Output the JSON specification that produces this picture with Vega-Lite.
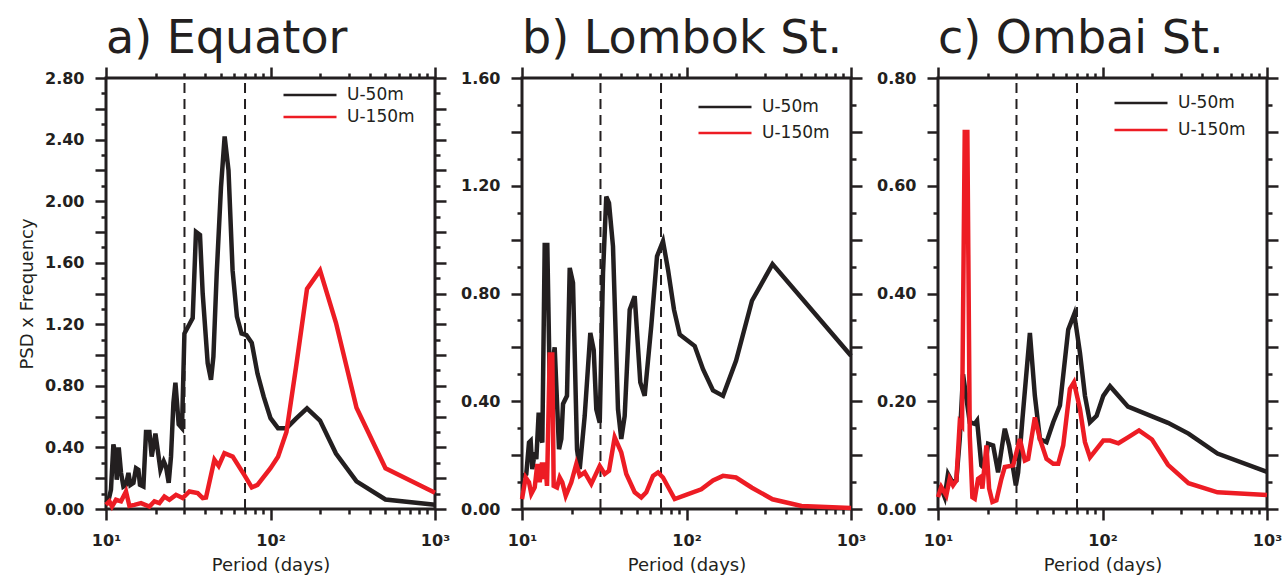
{
"$schema": "https://vega.github.io/schema/vega-lite/v6.json",
"background": "white",
"padding": {"left": 17, "top": 14, "right": 0, "bottom": 0},
"bounds": "flush",
"spacing": 87,
"datasets": {
"psd": [
{"panel":"a","series":"U-50m","period":10.0,"psd":0.04},{"panel":"a","series":"U-50m","period":10.38,"psd":0.06},{"panel":"a","series":"U-50m","period":10.72,"psd":0.125},{"panel":"a","series":"U-50m","period":11.09,"psd":0.42},{"panel":"a","series":"U-50m","period":11.40,"psd":0.36},{"panel":"a","series":"U-50m","period":11.62,"psd":0.19},{"panel":"a","series":"U-50m","period":11.95,"psd":0.40},{"panel":"a","series":"U-50m","period":12.34,"psd":0.235},{"panel":"a","series":"U-50m","period":12.76,"psd":0.146},{"panel":"a","series":"U-50m","period":13.23,"psd":0.157},{"panel":"a","series":"U-50m","period":13.69,"psd":0.235},{"panel":"a","series":"U-50m","period":14.07,"psd":0.157},{"panel":"a","series":"U-50m","period":14.68,"psd":0.17},{"panel":"a","series":"U-50m","period":15.22,"psd":0.265},{"panel":"a","series":"U-50m","period":15.74,"psd":0.255},{"panel":"a","series":"U-50m","period":16.09,"psd":0.157},{"panel":"a","series":"U-50m","period":16.88,"psd":0.146},{"panel":"a","series":"U-50m","period":17.51,"psd":0.50},{"panel":"a","series":"U-50m","period":18.36,"psd":0.50},{"panel":"a","series":"U-50m","period":18.96,"psd":0.34},{"panel":"a","series":"U-50m","period":19.97,"psd":0.49},{"panel":"a","series":"U-50m","period":20.62,"psd":0.385},{"panel":"a","series":"U-50m","period":21.42,"psd":0.255},{"panel":"a","series":"U-50m","period":22.43,"psd":0.31},{"panel":"a","series":"U-50m","period":23.16,"psd":0.275},{"panel":"a","series":"U-50m","period":24.05,"psd":0.17},{"panel":"a","series":"U-50m","period":24.84,"psd":0.34},{"panel":"a","series":"U-50m","period":25.69,"psd":0.69},{"panel":"a","series":"U-50m","period":26.42,"psd":0.82},{"panel":"a","series":"U-50m","period":27.02,"psd":0.69},{"panel":"a","series":"U-50m","period":27.66,"psd":0.55},{"panel":"a","series":"U-50m","period":28.97,"psd":0.525},{"panel":"a","series":"U-50m","period":29.97,"psd":1.14},{"panel":"a","series":"U-50m","period":32.14,"psd":1.20},{"panel":"a","series":"U-50m","period":33.65,"psd":1.24},{"panel":"a","series":"U-50m","period":35.24,"psd":1.80},{"panel":"a","series":"U-50m","period":37.27,"psd":1.78},{"panel":"a","series":"U-50m","period":38.71,"psd":1.40},{"panel":"a","series":"U-50m","period":41.51,"psd":0.947},{"panel":"a","series":"U-50m","period":43.48,"psd":0.84},{"panel":"a","series":"U-50m","period":44.97,"psd":0.99},{"panel":"a","series":"U-50m","period":47.10,"psd":1.53},{"panel":"a","series":"U-50m","period":50.0,"psd":2.09},{"panel":"a","series":"U-50m","period":52.63,"psd":2.42},{"panel":"a","series":"U-50m","period":55.56,"psd":2.20},{"panel":"a","series":"U-50m","period":58.82,"psd":1.55},{"panel":"a","series":"U-50m","period":62.5,"psd":1.25},{"panel":"a","series":"U-50m","period":66.67,"psd":1.14},{"panel":"a","series":"U-50m","period":71.43,"psd":1.13},{"panel":"a","series":"U-50m","period":76.92,"psd":1.08},{"panel":"a","series":"U-50m","period":83.33,"psd":0.88},{"panel":"a","series":"U-50m","period":90.91,"psd":0.73},{"panel":"a","series":"U-50m","period":100,"psd":0.59},{"panel":"a","series":"U-50m","period":111.1,"psd":0.525},{"panel":"a","series":"U-50m","period":125,"psd":0.525},{"panel":"a","series":"U-50m","period":142.9,"psd":0.587},{"panel":"a","series":"U-50m","period":166.7,"psd":0.654},{"panel":"a","series":"U-50m","period":200,"psd":0.575},{"panel":"a","series":"U-50m","period":250,"psd":0.36},{"panel":"a","series":"U-50m","period":333.3,"psd":0.18},{"panel":"a","series":"U-50m","period":500,"psd":0.062},{"panel":"a","series":"U-50m","period":1000,"psd":0.027},
{"panel":"a","series":"U-150m","period":10.0,"psd":0.027},{"panel":"a","series":"U-150m","period":10.49,"psd":0.05},{"panel":"a","series":"U-150m","period":10.88,"psd":0.016},{"panel":"a","series":"U-150m","period":11.50,"psd":0.06},{"panel":"a","series":"U-150m","period":12.34,"psd":0.05},{"panel":"a","series":"U-150m","period":13.23,"psd":0.114},{"panel":"a","series":"U-150m","period":13.88,"psd":0.02},{"panel":"a","series":"U-150m","period":14.88,"psd":0.027},{"panel":"a","series":"U-150m","period":16.32,"psd":0.038},{"panel":"a","series":"U-150m","period":18.36,"psd":0.016},{"panel":"a","series":"U-150m","period":19.69,"psd":0.05},{"panel":"a","series":"U-150m","period":21.12,"psd":0.038},{"panel":"a","series":"U-150m","period":22.65,"psd":0.081},{"panel":"a","series":"U-150m","period":24.29,"psd":0.06},{"panel":"a","series":"U-150m","period":26.64,"psd":0.092},{"panel":"a","series":"U-150m","period":29.26,"psd":0.071},{"panel":"a","series":"U-150m","period":32.14,"psd":0.114},{"panel":"a","series":"U-150m","period":36.09,"psd":0.103},{"panel":"a","series":"U-150m","period":38.71,"psd":0.071},{"panel":"a","series":"U-150m","period":40.54,"psd":0.075},{"panel":"a","series":"U-150m","period":45.60,"psd":0.32},{"panel":"a","series":"U-150m","period":48.42,"psd":0.28},{"panel":"a","series":"U-150m","period":52.46,"psd":0.363},{"panel":"a","series":"U-150m","period":58.91,"psd":0.34},{"panel":"a","series":"U-150m","period":69.39,"psd":0.22},{"panel":"a","series":"U-150m","period":76.92,"psd":0.14},{"panel":"a","series":"U-150m","period":83.33,"psd":0.157},{"panel":"a","series":"U-150m","period":100,"psd":0.265},{"panel":"a","series":"U-150m","period":111.1,"psd":0.34},{"panel":"a","series":"U-150m","period":125,"psd":0.50},{"panel":"a","series":"U-150m","period":142.9,"psd":0.92},{"panel":"a","series":"U-150m","period":166.7,"psd":1.43},{"panel":"a","series":"U-150m","period":200,"psd":1.55},{"panel":"a","series":"U-150m","period":250,"psd":1.21},{"panel":"a","series":"U-150m","period":333.3,"psd":0.658},{"panel":"a","series":"U-150m","period":500,"psd":0.265},{"panel":"a","series":"U-150m","period":1000,"psd":0.105},
{"panel":"b","series":"U-50m","period":10.0,"psd":0.12},{"panel":"b","series":"U-50m","period":10.62,"psd":0.13},{"panel":"b","series":"U-50m","period":11.03,"psd":0.247},{"panel":"b","series":"U-50m","period":11.29,"psd":0.253},{"panel":"b","series":"U-50m","period":11.55,"psd":0.148},{"panel":"b","series":"U-50m","period":11.95,"psd":0.21},{"panel":"b","series":"U-50m","period":12.22,"psd":0.185},{"panel":"b","series":"U-50m","period":12.63,"psd":0.358},{"panel":"b","series":"U-50m","period":12.92,"psd":0.27},{"panel":"b","series":"U-50m","period":13.29,"psd":0.247},{"panel":"b","series":"U-50m","period":13.74,"psd":0.98},{"panel":"b","series":"U-50m","period":14.25,"psd":0.98},{"panel":"b","series":"U-50m","period":14.74,"psd":0.47},{"panel":"b","series":"U-50m","period":15.80,"psd":0.60},{"panel":"b","series":"U-50m","period":16.79,"psd":0.222},{"panel":"b","series":"U-50m","period":17.34,"psd":0.26},{"panel":"b","series":"U-50m","period":17.76,"psd":0.39},{"panel":"b","series":"U-50m","period":18.77,"psd":0.42},{"panel":"b","series":"U-50m","period":19.50,"psd":0.895},{"panel":"b","series":"U-50m","period":20.42,"psd":0.84},{"panel":"b","series":"U-50m","period":21.60,"psd":0.222},{"panel":"b","series":"U-50m","period":22.43,"psd":0.148},{"panel":"b","series":"U-50m","period":24.05,"psd":0.345},{"panel":"b","series":"U-50m","period":26.02,"psd":0.654},{"panel":"b","series":"U-50m","period":27.29,"psd":0.59},{"panel":"b","series":"U-50m","period":28.30,"psd":0.37},{"panel":"b","series":"U-50m","period":29.68,"psd":0.32},{"panel":"b","series":"U-50m","period":31.08,"psd":0.877},{"panel":"b","series":"U-50m","period":32.54,"psd":1.16},{"panel":"b","series":"U-50m","period":33.80,"psd":1.136},{"panel":"b","series":"U-50m","period":35.74,"psd":0.975},{"panel":"b","series":"U-50m","period":38.33,"psd":0.37},{"panel":"b","series":"U-50m","period":40.13,"psd":0.26},{"panel":"b","series":"U-50m","period":42.09,"psd":0.345},{"panel":"b","series":"U-50m","period":45.16,"psd":0.74},{"panel":"b","series":"U-50m","period":48.42,"psd":0.79},{"panel":"b","series":"U-50m","period":52.37,"psd":0.47},{"panel":"b","series":"U-50m","period":55.69,"psd":0.42},{"panel":"b","series":"U-50m","period":61.09,"psd":0.68},{"panel":"b","series":"U-50m","period":66.18,"psd":0.938},{"panel":"b","series":"U-50m","period":71.95,"psd":0.994},{"panel":"b","series":"U-50m","period":77.19,"psd":0.889},{"panel":"b","series":"U-50m","period":83.95,"psd":0.74},{"panel":"b","series":"U-50m","period":90.93,"psd":0.648},{"panel":"b","series":"U-50m","period":112.2,"psd":0.605},{"panel":"b","series":"U-50m","period":126.0,"psd":0.519},{"panel":"b","series":"U-50m","period":144.9,"psd":0.44},{"panel":"b","series":"U-50m","period":166.7,"psd":0.42},{"panel":"b","series":"U-50m","period":200,"psd":0.55},{"panel":"b","series":"U-50m","period":250,"psd":0.773},{"panel":"b","series":"U-50m","period":333.3,"psd":0.909},{"panel":"b","series":"U-50m","period":1000,"psd":0.569},
{"panel":"b","series":"U-150m","period":10.0,"psd":0.037},{"panel":"b","series":"U-150m","period":10.53,"psd":0.117},{"panel":"b","series":"U-150m","period":11.03,"psd":0.099},{"panel":"b","series":"U-150m","period":11.39,"psd":0.056},{"panel":"b","series":"U-150m","period":11.95,"psd":0.08},{"panel":"b","series":"U-150m","period":12.39,"psd":0.167},{"panel":"b","series":"U-150m","period":12.81,"psd":0.099},{"panel":"b","series":"U-150m","period":13.23,"psd":0.173},{"panel":"b","series":"U-150m","period":13.55,"psd":0.111},{"panel":"b","series":"U-150m","period":13.86,"psd":0.173},{"panel":"b","series":"U-150m","period":14.19,"psd":0.086},{"panel":"b","series":"U-150m","period":14.74,"psd":0.574},{"panel":"b","series":"U-150m","period":15.28,"psd":0.574},{"panel":"b","series":"U-150m","period":15.58,"psd":0.086},{"panel":"b","series":"U-150m","period":16.32,"psd":0.08},{"panel":"b","series":"U-150m","period":16.95,"psd":0.117},{"panel":"b","series":"U-150m","period":17.58,"psd":0.099},{"panel":"b","series":"U-150m","period":18.44,"psd":0.049},{"panel":"b","series":"U-150m","period":19.94,"psd":0.099},{"panel":"b","series":"U-150m","period":21.38,"psd":0.167},{"panel":"b","series":"U-150m","period":22.43,"psd":0.123},{"panel":"b","series":"U-150m","period":24.05,"psd":0.136},{"panel":"b","series":"U-150m","period":26.38,"psd":0.093},{"panel":"b","series":"U-150m","period":29.68,"psd":0.16},{"panel":"b","series":"U-150m","period":31.82,"psd":0.13},{"panel":"b","series":"U-150m","period":33.80,"psd":0.142},{"panel":"b","series":"U-150m","period":36.60,"psd":0.266},{"panel":"b","series":"U-150m","period":40.13,"psd":0.21},{"panel":"b","series":"U-150m","period":43.05,"psd":0.13},{"panel":"b","series":"U-150m","period":48.42,"psd":0.062},{"panel":"b","series":"U-150m","period":53.11,"psd":0.043},{"panel":"b","series":"U-150m","period":56.96,"psd":0.062},{"panel":"b","series":"U-150m","period":62.58,"psd":0.123},{"panel":"b","series":"U-150m","period":67.10,"psd":0.136},{"panel":"b","series":"U-150m","period":71.95,"psd":0.117},{"panel":"b","series":"U-150m","period":84.79,"psd":0.037},{"panel":"b","series":"U-150m","period":99.31,"psd":0.052},{"panel":"b","series":"U-150m","period":123.0,"psd":0.073},{"panel":"b","series":"U-150m","period":144.9,"psd":0.106},{"panel":"b","series":"U-150m","period":166.7,"psd":0.123},{"panel":"b","series":"U-150m","period":200,"psd":0.117},{"panel":"b","series":"U-150m","period":250,"psd":0.079},{"panel":"b","series":"U-150m","period":333.3,"psd":0.036},{"panel":"b","series":"U-150m","period":500,"psd":0.011},{"panel":"b","series":"U-150m","period":1000,"psd":0.004},
{"panel":"c","series":"U-50m","period":10.0,"psd":0.041},{"panel":"c","series":"U-50m","period":10.47,"psd":0.038},{"panel":"c","series":"U-50m","period":10.98,"psd":0.022},{"panel":"c","series":"U-50m","period":11.50,"psd":0.065},{"panel":"c","series":"U-50m","period":12.22,"psd":0.05},{"panel":"c","series":"U-50m","period":12.93,"psd":0.053},{"panel":"c","series":"U-50m","period":13.56,"psd":0.13},{"panel":"c","series":"U-50m","period":14.20,"psd":0.25},{"panel":"c","series":"U-50m","period":15.60,"psd":0.161},{"panel":"c","series":"U-50m","period":16.73,"psd":0.158},{"panel":"c","series":"U-50m","period":17.28,"psd":0.164},{"panel":"c","series":"U-50m","period":18.35,"psd":0.081},{"panel":"c","series":"U-50m","period":19.25,"psd":0.075},{"panel":"c","series":"U-50m","period":20.17,"psd":0.121},{"panel":"c","series":"U-50m","period":21.63,"psd":0.118},{"panel":"c","series":"U-50m","period":23.19,"psd":0.068},{"panel":"c","series":"U-50m","period":24.88,"psd":0.13},{"panel":"c","series":"U-50m","period":25.48,"psd":0.149},{"panel":"c","series":"U-50m","period":27.06,"psd":0.118},{"panel":"c","series":"U-50m","period":28.63,"psd":0.075},{"panel":"c","series":"U-50m","period":29.73,"psd":0.044},{"panel":"c","series":"U-50m","period":30.70,"psd":0.068},{"panel":"c","series":"U-50m","period":32.61,"psd":0.167},{"panel":"c","series":"U-50m","period":36.19,"psd":0.327},{"panel":"c","series":"U-50m","period":38.80,"psd":0.21},{"panel":"c","series":"U-50m","period":41.64,"psd":0.13},{"panel":"c","series":"U-50m","period":45.67,"psd":0.124},{"panel":"c","series":"U-50m","period":50.17,"psd":0.161},{"panel":"c","series":"U-50m","period":55.11,"psd":0.192},{"panel":"c","series":"U-50m","period":61.91,"psd":0.333},{"panel":"c","series":"U-50m","period":67.34,"psd":0.362},{"panel":"c","series":"U-50m","period":72.94,"psd":0.29},{"panel":"c","series":"U-50m","period":78.24,"psd":0.21},{"panel":"c","series":"U-50m","period":83.92,"psd":0.161},{"panel":"c","series":"U-50m","period":92.07,"psd":0.173},{"panel":"c","series":"U-50m","period":101.1,"psd":0.21},{"panel":"c","series":"U-50m","period":111.1,"psd":0.228},{"panel":"c","series":"U-50m","period":142.9,"psd":0.19},{"panel":"c","series":"U-50m","period":200,"psd":0.172},{"panel":"c","series":"U-50m","period":250,"psd":0.16},{"panel":"c","series":"U-50m","period":333.3,"psd":0.14},{"panel":"c","series":"U-50m","period":500,"psd":0.103},{"panel":"c","series":"U-50m","period":1000,"psd":0.069},
{"panel":"c","series":"U-150m","period":10.0,"psd":0.022},{"panel":"c","series":"U-150m","period":10.47,"psd":0.041},{"panel":"c","series":"U-150m","period":11.23,"psd":0.025},{"panel":"c","series":"U-150m","period":11.78,"psd":0.056},{"panel":"c","series":"U-150m","period":12.34,"psd":0.044},{"panel":"c","series":"U-150m","period":12.93,"psd":0.053},{"panel":"c","series":"U-150m","period":13.56,"psd":0.161},{"panel":"c","series":"U-150m","period":14.00,"psd":0.155},{"panel":"c","series":"U-150m","period":14.54,"psd":0.70},{"panel":"c","series":"U-150m","period":15.08,"psd":0.70},{"panel":"c","series":"U-150m","period":15.60,"psd":0.136},{"panel":"c","series":"U-150m","period":16.18,"psd":0.022},{"panel":"c","series":"U-150m","period":16.73,"psd":0.019},{"panel":"c","series":"U-150m","period":17.52,"psd":0.056},{"panel":"c","series":"U-150m","period":18.10,"psd":0.059},{"panel":"c","series":"U-150m","period":18.61,"psd":0.038},{"panel":"c","series":"U-150m","period":19.69,"psd":0.118},{"panel":"c","series":"U-150m","period":20.45,"psd":0.038},{"panel":"c","series":"U-150m","period":21.42,"psd":0.013},{"panel":"c","series":"U-150m","period":22.65,"psd":0.016},{"panel":"c","series":"U-150m","period":24.29,"psd":0.056},{"panel":"c","series":"U-150m","period":25.48,"psd":0.078},{"panel":"c","series":"U-150m","period":28.63,"psd":0.081},{"panel":"c","series":"U-150m","period":31.45,"psd":0.13},{"panel":"c","series":"U-150m","period":33.73,"psd":0.09},{"panel":"c","series":"U-150m","period":35.32,"psd":0.093},{"panel":"c","series":"U-150m","period":38.80,"psd":0.17},{"panel":"c","series":"U-150m","period":41.64,"psd":0.13},{"panel":"c","series":"U-150m","period":45.67,"psd":0.093},{"panel":"c","series":"U-150m","period":50.17,"psd":0.084},{"panel":"c","series":"U-150m","period":53.81,"psd":0.084},{"panel":"c","series":"U-150m","period":57.71,"psd":0.118},{"panel":"c","series":"U-150m","period":63.40,"psd":0.223},{"panel":"c","series":"U-150m","period":67.06,"psd":0.235},{"panel":"c","series":"U-150m","period":72.94,"psd":0.186},{"panel":"c","series":"U-150m","period":78.24,"psd":0.124},{"panel":"c","series":"U-150m","period":83.92,"psd":0.096},{"panel":"c","series":"U-150m","period":101.1,"psd":0.127},{"panel":"c","series":"U-150m","period":111.1,"psd":0.127},{"panel":"c","series":"U-150m","period":125,"psd":0.122},{"panel":"c","series":"U-150m","period":142.9,"psd":0.133},{"panel":"c","series":"U-150m","period":166.7,"psd":0.146},{"panel":"c","series":"U-150m","period":200,"psd":0.129},{"panel":"c","series":"U-150m","period":250,"psd":0.082},{"panel":"c","series":"U-150m","period":333.3,"psd":0.048},{"panel":"c","series":"U-150m","period":500,"psd":0.031},{"panel":"c","series":"U-150m","period":1000,"psd":0.026}
]
},
"hconcat": [
{
"width": 329, "height": 431,
"title": {"text": "a) Equator"},
"layer": [
{"data": {"values": [{"period": 30}, {"period": 70}]},
"mark": {"type": "rule", "strokeDash": [10, 6], "strokeWidth": 2, "color": "#231f20"},
"encoding": {
"x": {"field": "period", "type": "quantitative", "scale": {"type": "log", "domain": [10, 1000], "nice": false}, "axis": {"orient": "top", "values": [10,20,30,40,50,60,70,80,90,100,200,300,400,500,600,700,800,900,1000], "labels": false, "title": null, "tickSize": {"condition": {"test": "datum.value == 10 || datum.value == 100 || datum.value == 1000", "value": 11}, "value": 5}}},
"y": {"datum": 0, "type": "quantitative", "scale": {"domain": [0, 2.8], "nice": false}, "axis": {"orient": "right", "values": [0,0.1,0.2,0.3,0.4,0.5,0.6,0.7,0.8,0.9,1.0,1.1,1.2,1.3,1.4,1.5,1.6,1.7,1.8,1.9,2.0,2.1,2.2,2.3,2.4,2.5,2.6,2.7,2.8], "labels": false, "title": null, "tickSize": {"condition": {"test": "abs(datum.value*5 - round(datum.value*5)) < 0.001", "value": 11}, "value": 5}}},
"y2": {"datum": 2.8}
}},
{"data": {"name": "psd"},
"transform": [{"filter": "datum.panel == 'a' && datum.series == 'U-50m'"}],
"mark": {"type": "line", "strokeWidth": 4.5},
"encoding": {
"x": {"field": "period", "type": "quantitative", "scale": {"type": "log", "domain": [10, 1000], "nice": false}, "axis": {"orient": "bottom", "values": [10,20,30,40,50,60,70,80,90,100,200,300,400,500,600,700,800,900,1000], "labelExpr": "datum.value == 10 ? '10¹' : datum.value == 100 ? '10²' : datum.value == 1000 ? '10³' : ''", "title": "Period (days)", "tickSize": {"condition": {"test": "datum.value == 10 || datum.value == 100 || datum.value == 1000", "value": 11}, "value": 5}}},
"y": {"field": "psd", "type": "quantitative", "scale": {"domain": [0, 2.8], "nice": false}, "axis": {"orient": "left", "values": [0,0.1,0.2,0.3,0.4,0.5,0.6,0.7,0.8,0.9,1.0,1.1,1.2,1.3,1.4,1.5,1.6,1.7,1.8,1.9,2.0,2.1,2.2,2.3,2.4,2.5,2.6,2.7,2.8], "labelExpr": "abs(datum.value/0.4 - round(datum.value/0.4)) < 0.001 ? format(datum.value, '.2f') : ''", "title": "PSD x Frequency", "tickSize": {"condition": {"test": "abs(datum.value*5 - round(datum.value*5)) < 0.001", "value": 11}, "value": 5}}},
"color": {"field": "series", "type": "nominal", "scale": {"domain": ["U-50m", "U-150m"], "range": ["#231f20", "#ed1c24"]}, "legend": {"orient": "none", "legendX": 176, "legendY": 9, "rowPadding": 5}}
}},
{"data": {"name": "psd"},
"transform": [{"filter": "datum.panel == 'a' && datum.series == 'U-150m'"}],
"mark": {"type": "line", "strokeWidth": 4.5},
"encoding": {
"x": {"field": "period", "type": "quantitative", "axis": null},
"y": {"field": "psd", "type": "quantitative", "axis": null},
"color": {"field": "series", "type": "nominal"}
}}
],
"resolve": {"axis": {"x": "independent", "y": "independent"}}
},
{
"width": 329, "height": 431,
"title": {"text": "b) Lombok St."},
"layer": [
{"data": {"values": [{"period": 30}, {"period": 70}]},
"mark": {"type": "rule", "strokeDash": [10, 6], "strokeWidth": 2, "color": "#231f20"},
"encoding": {
"x": {"field": "period", "type": "quantitative", "scale": {"type": "log", "domain": [10, 1000], "nice": false}, "axis": {"orient": "top", "values": [10,20,30,40,50,60,70,80,90,100,200,300,400,500,600,700,800,900,1000], "labels": false, "title": null, "tickSize": {"condition": {"test": "datum.value == 10 || datum.value == 100 || datum.value == 1000", "value": 11}, "value": 5}}},
"y": {"datum": 0, "type": "quantitative", "scale": {"domain": [0, 1.6], "nice": false}, "axis": {"orient": "right", "values": [0,0.1,0.2,0.3,0.4,0.5,0.6,0.7,0.8,0.9,1.0,1.1,1.2,1.3,1.4,1.5,1.6], "labels": false, "title": null, "tickSize": {"condition": {"test": "abs(datum.value*5 - round(datum.value*5)) < 0.001", "value": 11}, "value": 5}}},
"y2": {"datum": 1.6}
}},
{"data": {"name": "psd"},
"transform": [{"filter": "datum.panel == 'b' && datum.series == 'U-50m'"}],
"mark": {"type": "line", "strokeWidth": 4.5},
"encoding": {
"x": {"field": "period", "type": "quantitative", "scale": {"type": "log", "domain": [10, 1000], "nice": false}, "axis": {"orient": "bottom", "values": [10,20,30,40,50,60,70,80,90,100,200,300,400,500,600,700,800,900,1000], "labelExpr": "datum.value == 10 ? '10¹' : datum.value == 100 ? '10²' : datum.value == 1000 ? '10³' : ''", "title": "Period (days)", "tickSize": {"condition": {"test": "datum.value == 10 || datum.value == 100 || datum.value == 1000", "value": 11}, "value": 5}}},
"y": {"field": "psd", "type": "quantitative", "scale": {"domain": [0, 1.6], "nice": false}, "axis": {"orient": "left", "values": [0,0.1,0.2,0.3,0.4,0.5,0.6,0.7,0.8,0.9,1.0,1.1,1.2,1.3,1.4,1.5,1.6], "labelExpr": "abs(datum.value/0.4 - round(datum.value/0.4)) < 0.001 ? format(datum.value, '.2f') : ''", "title": null, "tickSize": {"condition": {"test": "abs(datum.value*5 - round(datum.value*5)) < 0.001", "value": 11}, "value": 5}}},
"color": {"field": "series", "type": "nominal", "scale": {"domain": ["U-50m", "U-150m"], "range": ["#231f20", "#ed1c24"]}, "legend": {"orient": "none", "legendX": 175, "legendY": 21, "rowPadding": 9}}
}},
{"data": {"name": "psd"},
"transform": [{"filter": "datum.panel == 'b' && datum.series == 'U-150m'"}],
"mark": {"type": "line", "strokeWidth": 4.5},
"encoding": {
"x": {"field": "period", "type": "quantitative", "axis": null},
"y": {"field": "psd", "type": "quantitative", "axis": null},
"color": {"field": "series", "type": "nominal"}
}}
],
"resolve": {"axis": {"x": "independent", "y": "independent"}}
},
{
"width": 329, "height": 431,
"title": {"text": "c) Ombai St."},
"layer": [
{"data": {"values": [{"period": 30}, {"period": 70}]},
"mark": {"type": "rule", "strokeDash": [10, 6], "strokeWidth": 2, "color": "#231f20"},
"encoding": {
"x": {"field": "period", "type": "quantitative", "scale": {"type": "log", "domain": [10, 1000], "nice": false}, "axis": {"orient": "top", "values": [10,20,30,40,50,60,70,80,90,100,200,300,400,500,600,700,800,900,1000], "labels": false, "title": null, "tickSize": {"condition": {"test": "datum.value == 10 || datum.value == 100 || datum.value == 1000", "value": 11}, "value": 5}}},
"y": {"datum": 0, "type": "quantitative", "scale": {"domain": [0, 0.8], "nice": false}, "axis": {"orient": "right", "values": [0,0.05,0.1,0.15,0.2,0.25,0.3,0.35,0.4,0.45,0.5,0.55,0.6,0.65,0.7,0.75,0.8], "labels": false, "title": null, "tickSize": {"condition": {"test": "abs(datum.value*10 - round(datum.value*10)) < 0.001", "value": 11}, "value": 5}}},
"y2": {"datum": 0.8}
}},
{"data": {"name": "psd"},
"transform": [{"filter": "datum.panel == 'c' && datum.series == 'U-50m'"}],
"mark": {"type": "line", "strokeWidth": 4.5},
"encoding": {
"x": {"field": "period", "type": "quantitative", "scale": {"type": "log", "domain": [10, 1000], "nice": false}, "axis": {"orient": "bottom", "values": [10,20,30,40,50,60,70,80,90,100,200,300,400,500,600,700,800,900,1000], "labelExpr": "datum.value == 10 ? '10¹' : datum.value == 100 ? '10²' : datum.value == 1000 ? '10³' : ''", "title": "Period (days)", "tickSize": {"condition": {"test": "datum.value == 10 || datum.value == 100 || datum.value == 1000", "value": 11}, "value": 5}}},
"y": {"field": "psd", "type": "quantitative", "scale": {"domain": [0, 0.8], "nice": false}, "axis": {"orient": "left", "values": [0,0.05,0.1,0.15,0.2,0.25,0.3,0.35,0.4,0.45,0.5,0.55,0.6,0.65,0.7,0.75,0.8], "labelExpr": "abs(datum.value*5 - round(datum.value*5)) < 0.001 ? format(datum.value, '.2f') : ''", "title": null, "tickSize": {"condition": {"test": "abs(datum.value*10 - round(datum.value*10)) < 0.001", "value": 11}, "value": 5}}},
"color": {"field": "series", "type": "nominal", "scale": {"domain": ["U-50m", "U-150m"], "range": ["#231f20", "#ed1c24"]}, "legend": {"orient": "none", "legendX": 175, "legendY": 17, "rowPadding": 10}}
}},
{"data": {"name": "psd"},
"transform": [{"filter": "datum.panel == 'c' && datum.series == 'U-150m'"}],
"mark": {"type": "line", "strokeWidth": 4.5},
"encoding": {
"x": {"field": "period", "type": "quantitative", "axis": null},
"y": {"field": "psd", "type": "quantitative", "axis": null},
"color": {"field": "series", "type": "nominal"}
}}
],
"resolve": {"axis": {"x": "independent", "y": "independent"}}
}
],
"resolve": {"scale": {"color": "independent"}, "legend": {"color": "independent"}},
"config": {
"view": {"stroke": "#231f20", "strokeWidth": 3},
"axis": {"domain": false, "grid": false, "tickColor": "#231f20", "tickWidth": 2.5, "labelFont": "DejaVu Sans", "labelFontWeight": "bold", "labelFontSize": 16, "labelColor": "#231f20", "labelOverlap": false, "labelFlush": false, "titleFont": "DejaVu Sans", "titleFontWeight": "normal", "titleFontSize": 18, "titleColor": "#231f20", "titlePadding": 8},
"axisX": {"labelPadding": 12},
"axisY": {"labelPadding": 11},
"title": {"font": "DejaVu Sans", "fontSize": 46, "fontWeight": "normal", "color": "#231f20", "anchor": "start", "frame": "group", "offset": 3},
"legend": {"title": null, "symbolType": "stroke", "symbolSize": 2809, "symbolStrokeWidth": 2.5, "labelFont": "DejaVu Sans", "labelFontSize": 17, "labelColor": "#231f20", "labelOffset": 9, "padding": 0, "clipHeight": 16}
}
}
